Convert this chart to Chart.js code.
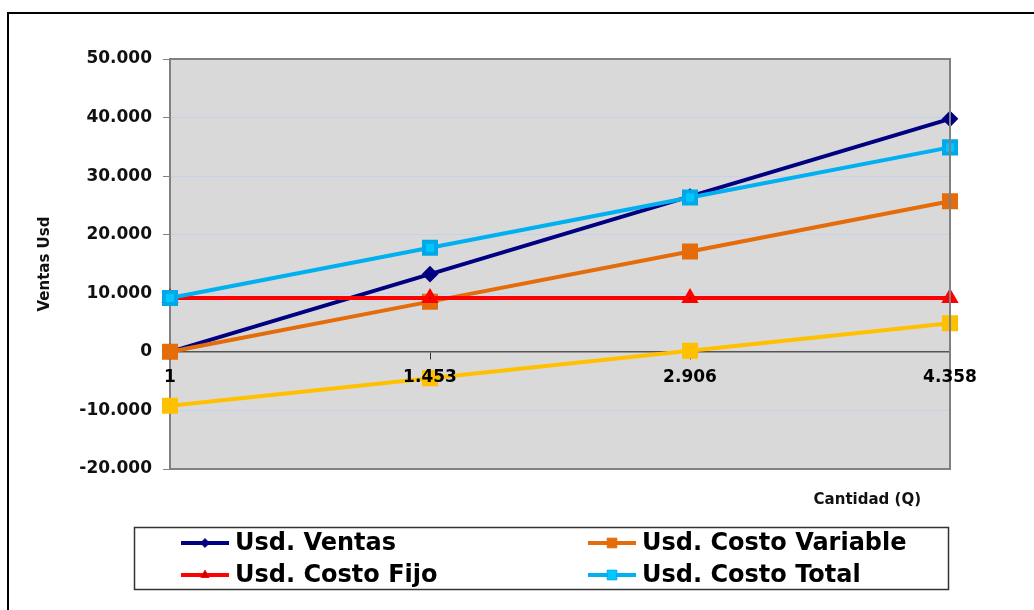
<!DOCTYPE html>
<html>
<head>
<meta charset="utf-8">
<script src="https://cdn.jsdelivr.net/npm/chart.js@4/dist/chart.umd.min.js"></script>
<style>
    html, body { margin: 0; padding: 0; background: #fff; }
    #wrap { width: 1034px; height: 610px; }
</style>
</head>
<body>
<div id="wrap"><canvas id="peChart" width="1034" height="610"></canvas></div>
<script>
// cantidades (Q)
let cantidades = ['1', '1.453', '2.906', '4.358'];

// series en dolares
let ventas = [9, 13266, 26532, 39789];
let costoVariable = [6, 8573, 17145, 25712];
let costoFijo = [9200, 9200, 9200, 9200];
let costoTotal = [9206, 17773, 26345, 34912];
let utilidad = [-9197, -4507, 187, 4877];

let yMin = -20000;
let yMax = 50000;
let yStep = 10000;

function formatMiles(n) {
    let s = Math.abs(n).toString().replace(/\B(?=(\d{3})+(?!\d))/g, '.');
    return (n < 0 ? '-' : '') + s;
}

// fondo gris del area de trazado + marco exterior
const plotFrame = {
    id: 'plotFrame',
    beforeDraw(chart) {
        let ctx = chart.ctx;
        let a = chart.chartArea;
        ctx.save();
        ctx.fillStyle = '#d9d9d9';
        ctx.fillRect(a.left, a.top, a.right - a.left, a.bottom - a.top);

        // marco negro de la hoja
        ctx.strokeStyle = '#000';
        ctx.lineWidth = 2;
        ctx.beginPath();
        ctx.moveTo(8, 610);
        ctx.lineTo(8, 13);
        ctx.lineTo(1034, 13);
        ctx.stroke();
        ctx.restore();
    },
    afterDatasetsDraw(chart) {
        let ctx = chart.ctx;
        let a = chart.chartArea;
        ctx.save();
        ctx.strokeStyle = '#808080';
        ctx.lineWidth = 2;
        ctx.beginPath();
        ctx.moveTo(a.left, a.top);
        ctx.lineTo(a.right, a.top);
        ctx.lineTo(a.right, a.bottom);
        ctx.lineTo(a.left, a.bottom);
        ctx.stroke();
        ctx.restore();
    }
};

// leyenda en caja, 2 columnas
const boxLegend = {
    id: 'boxLegend',
    afterDraw(chart) {
        let ctx = chart.ctx;
        ctx.save();
        ctx.strokeStyle = '#333';
        ctx.lineWidth = 1.5;
        ctx.strokeRect(134.5, 527.5, 814, 62);

        let cols = [181, 588];
        let rows = [543, 575];
        let items = chart.data.datasets.filter(ds => !ds.hideInLegend);
        items.forEach((ds, i) => {
            let x = cols[i % 2];
            let y = rows[Math.floor(i / 2)];
            ctx.strokeStyle = ds.borderColor;
            ctx.lineWidth = 4;
            ctx.beginPath();
            ctx.moveTo(x, y);
            ctx.lineTo(x + 48, y);
            ctx.stroke();
            ctx.fillStyle = ds.pointBackgroundColor;
            ctx.strokeStyle = ds.pointBorderColor;
            ctx.lineWidth = 1;
            Chart.helpers.drawPoint(ctx, {
                pointStyle: ds.pointStyle,
                radius: ds.pointRadius * 0.8,
                rotation: 0,
                borderWidth: 1
            }, x + 24, y);
            ctx.fillStyle = '#000';
            ctx.font = 'bold 24px "DejaVu Sans"';
            ctx.textBaseline = 'middle';
            ctx.textAlign = 'left';
            ctx.fillText(ds.label, x + 54, y + 1);
        });

        // titulo del eje x
        ctx.font = 'bold 15px "DejaVu Sans"';
        ctx.textAlign = 'right';
        ctx.textBaseline = 'middle';
        ctx.fillStyle = '#111';
        ctx.fillText('Cantidad (Q)', 921, 500);
        ctx.restore();
    }
};

let ctx = document.getElementById('peChart').getContext('2d');

new Chart(ctx, {
    type: 'line',
    data: {
        labels: cantidades,
        datasets: [{
            label: 'Usd. Ventas',
            data: ventas,
            borderColor: '#000080',
            backgroundColor: '#000080',
            pointBackgroundColor: '#000080',
            pointBorderColor: '#000080',
            pointStyle: 'rectRot',
            pointRadius: 5.5,
            borderWidth: 4,
            order: 3
        }, {
            label: 'Usd. Costo Variable',
            data: costoVariable,
            borderColor: '#e46c0a',
            backgroundColor: '#e46c0a',
            pointBackgroundColor: '#e46c0a',
            pointBorderColor: '#e46c0a',
            pointStyle: 'rect',
            pointRadius: 8.5,
            borderWidth: 4,
            order: 2
        }, {
            label: 'Usd. Costo Fijo',
            data: costoFijo,
            borderColor: '#ff0000',
            backgroundColor: '#ff0000',
            pointBackgroundColor: '#c00000',
            pointBorderColor: '#ff0000',
            pointStyle: 'triangle',
            pointRadius: 6,
            borderWidth: 4,
            order: 1
        }, {
            label: 'Usd. Costo Total',
            data: costoTotal,
            borderColor: '#00b0f0',
            backgroundColor: '#00b0f0',
            pointBackgroundColor: '#00c8ff',
            pointBorderColor: '#00a8e8',
            pointStyle: 'rect',
            pointRadius: 8.5,
            borderWidth: 4,
            order: 0
        }, {
            label: 'Usd. Utilidad',
            data: utilidad,
            borderColor: '#ffc000',
            backgroundColor: '#ffc000',
            pointBackgroundColor: '#ffc000',
            pointBorderColor: '#ffc000',
            pointStyle: 'rect',
            pointRadius: 8.5,
            borderWidth: 4,
            order: 4,
            hideInLegend: true
        }]
    },
    options: {
        responsive: false,
        animation: false,
        layout: {
            padding: { left: 0, right: 84, top: 59, bottom: 141 }
        },
        elements: {
            line: { tension: 0 },
            point: { borderWidth: 1 }
        },
        scales: {
            x: {
                type: 'category',
                position: { y: 0 },
                offset: false,
                grid: {
                    drawOnChartArea: false,
                    drawTicks: true,
                    tickLength: 7,
                    tickColor: '#333'
                },
                border: { color: '#555', width: 1.5 },
                ticks: {
                    z: 1,
                    autoSkip: false,
                    maxRotation: 0,
                    padding: 9,
                    color: '#000',
                    font: { family: 'DejaVu Sans', weight: 'bold', size: 17 }
                }
            },
            y: {
                min: yMin,
                max: yMax,
                afterFit: s => { s.width = 170; },
                grid: {
                    color: 'rgba(195,208,238,0.9)',
                    lineWidth: 1,
                    tickColor: '#808080',
                    tickLength: 7
                },
                border: { color: '#808080', width: 2 },
                ticks: {
                    stepSize: yStep,
                    padding: 11,
                    color: '#111',
                    font: { family: 'DejaVu Sans', weight: 'bold', size: 17 },
                    callback: v => formatMiles(v)
                },
                title: {
                    display: true,
                    text: 'Ventas Usd',
                    color: '#111',
                    font: { family: 'DejaVu Sans', weight: 'bold', size: 15 },
                    padding: { top: 36, bottom: 0 }
                }
            }
        },
        plugins: {
            legend: { display: false },
            tooltip: { enabled: false }
        }
    },
    plugins: [plotFrame, boxLegend]
});
</script>
</body>
</html>
